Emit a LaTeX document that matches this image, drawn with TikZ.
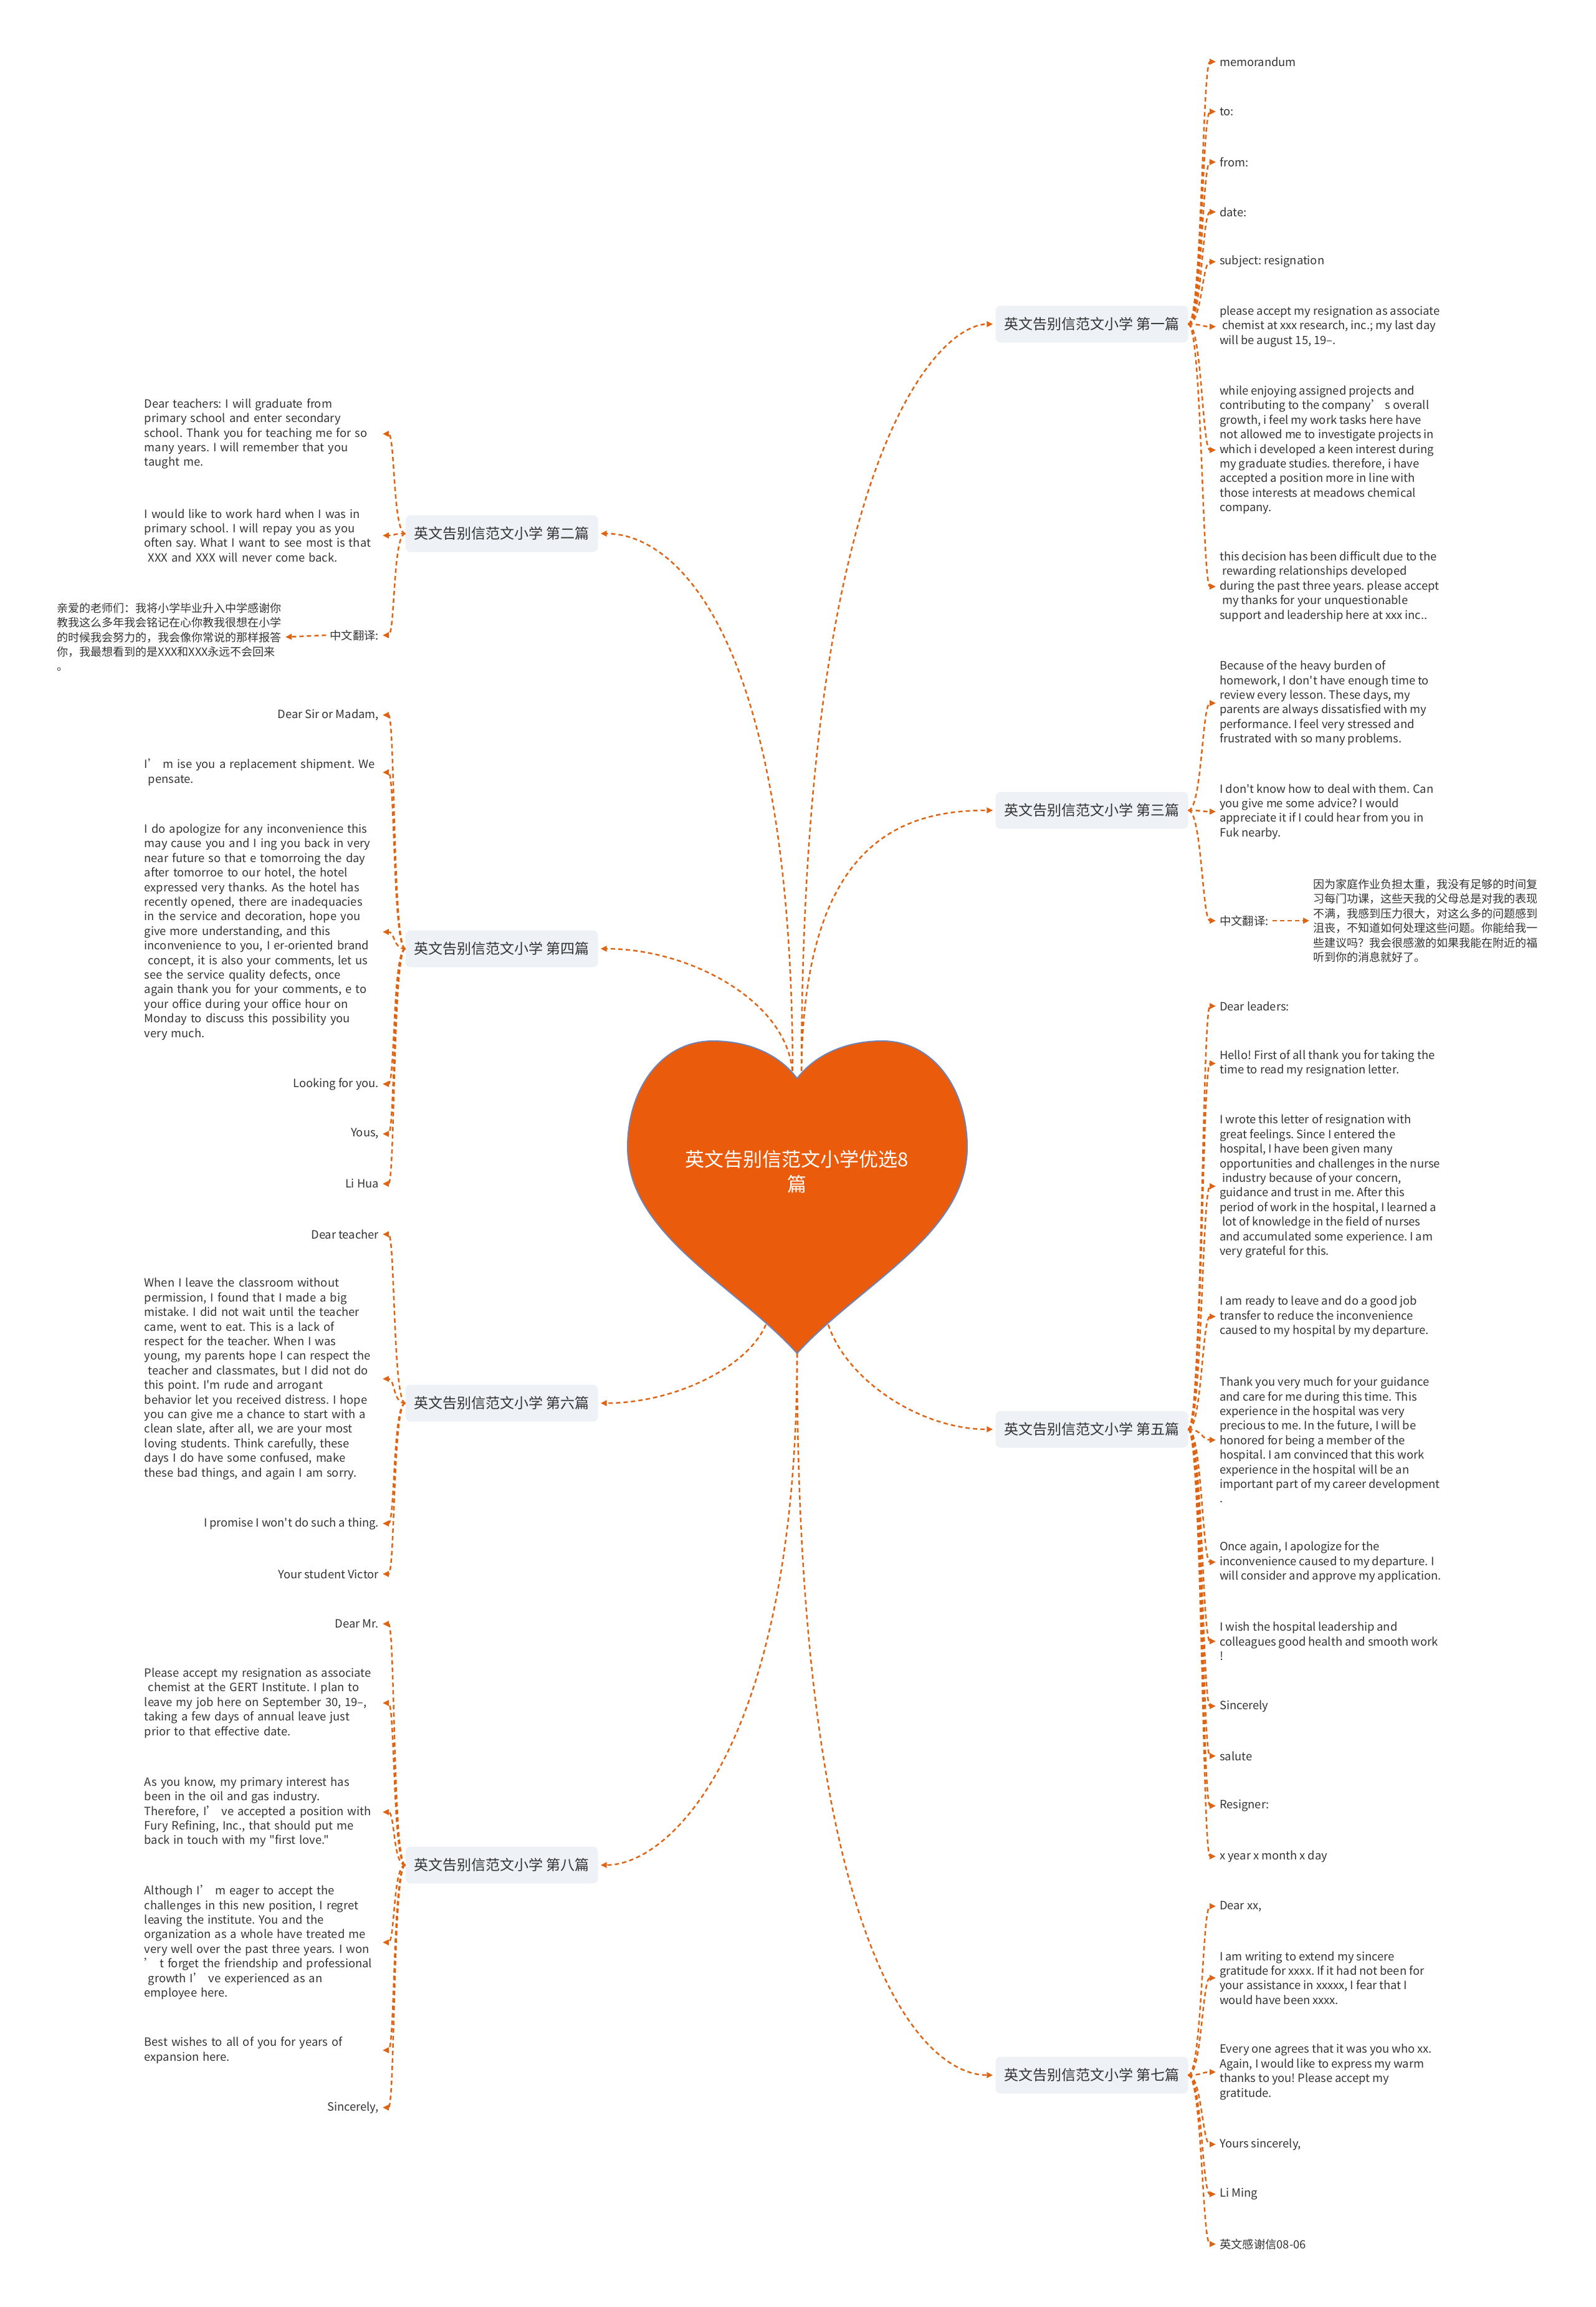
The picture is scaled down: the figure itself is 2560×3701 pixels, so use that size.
\documentclass[tikz,border=0pt]{standalone}
\usepackage{fontspec}
\setmainfont{Noto Sans CJK SC}[Ligatures=TeXOff]
\usetikzlibrary{arrows.meta}
\definecolor{heartorange}{HTML}{EA5B0C}
\definecolor{heartedge}{HTML}{6F84B4}
\definecolor{linkorange}{HTML}{DE6414}
\definecolor{branchfill}{HTML}{EEF1F6}
\definecolor{inktext}{HTML}{333333}
\frenchspacing

\begin{document}
\begin{tikzpicture}[
    x=1pt, y=-1pt,
    branch/.style={fill=branchfill, rounded corners=8pt, minimum width=309pt, minimum height=59pt, inner sep=4pt, text=inktext, font=\fontsize{23}{28}\selectfont},
    leaf/.style={text=inktext, inner sep=6pt, align=left, font=\fontsize{18.3}{23.4}\selectfont},
    lleaf/.style={leaf, anchor=east},
    rleaf/.style={leaf, anchor=west},
    lblock/.style={leaf, anchor=east, text width=376pt},
    zhblock/.style={leaf, font=\fontsize{18}{23.4}\selectfont},
    link/.style={draw=linkorange, line width=2.5pt, dash pattern=on 7pt off 5pt, -{Triangle[length=10pt,width=9pt]}},
    >=Stealth
]
\useasboundingbox (0,0) rectangle (2560,3701);

% heart in the middle
\filldraw[fill=heartorange, draw=heartedge, line width=2pt]
    (1279,1730) .. controls (1310,1690) and (1360,1670) .. (1416,1670)
    .. controls (1500,1670) and (1552,1750) .. (1552,1840)
    .. controls (1552,1980) and (1380,2060) .. (1279,2171)
    .. controls (1178,2060) and (1007,1980) .. (1007,1840)
    .. controls (1007,1750) and (1059,1670) .. (1144,1670)
    .. controls (1199,1670) and (1249,1690) .. (1279,1730) -- cycle;
\node[text=white, align=center, font=\fontsize{31}{40}\selectfont] (root) at (1279,1880) {英文告别信范文小学优选8\\篇};
\coordinate (htopl) at (1272,1730);
\coordinate (htopr) at (1286,1730);
\coordinate (hll) at (1229,2125);
\coordinate (hlr) at (1329,2125);
\coordinate (hbot) at (1279,2171);

% branches
\node[branch] (b1) at (1752,520) {英文告别信范文小学 第一篇};
\node[branch] (b3) at (1752,1300) {英文告别信范文小学 第三篇};
\node[branch] (b5) at (1752,2293) {英文告别信范文小学 第五篇};
\node[branch] (b7) at (1752,3329) {英文告别信范文小学 第七篇};
\node[branch] (b2) at (805,856) {英文告别信范文小学 第二篇};
\node[branch] (b4) at (805,1522) {英文告别信范文小学 第四篇};
\node[branch] (b6) at (805,2251) {英文告别信范文小学 第六篇};
\node[branch] (b8) at (805,2992) {英文告别信范文小学 第八篇};

\draw[link, shorten >=4pt] (htopr) .. controls +(0,-1000) and +(-90,0) .. (b1.west);
\draw[link, shorten >=4pt] (htopr) .. controls +(0,-380) and +(-150,0) .. (b3.west);
\draw[link, shorten >=4pt] (hlr) .. controls +(30,90) and +(-120,0) .. (b5.west);
\draw[link, shorten >=4pt] (hbot) .. controls +(0,950) and +(-120,0) .. (b7.west);
\draw[link, shorten >=4pt] (htopl) .. controls +(0,-700) and +(130,0) .. (b2.east);
\draw[link, shorten >=4pt] (htopl) .. controls +(0,-120) and +(150,0) .. (b4.east);
\draw[link, shorten >=4pt] (hll) .. controls +(-30,70) and +(120,0) .. (b6.east);
\draw[link, shorten >=4pt] (hbot) .. controls +(0,620) and +(120,0) .. (b8.east);

% first letter
\node[rleaf] (r11) at (1951,99) {memorandum};
\node[rleaf] (r12) at (1951,179) {to:};
\node[rleaf] (r13) at (1951,260) {from:};
\node[rleaf] (r14) at (1951,340) {date:};
\node[rleaf] (r15) at (1951,420) {subject: resignation};
\node[rleaf] (r16) at (1951,524) {please accept my resignation as associate\\\ chemist at xxx research, inc.; my last day\\will be august 15, 19–.};
\node[rleaf] (r17) at (1951,722) {while enjoying assigned projects and\\contributing to the company’ s overall\\growth, i feel my work tasks here have\\not allowed me to investigate projects in\\which i developed a keen interest during\\my graduate studies. therefore, i have\\accepted a position more in line with\\those interests at meadows chemical\\company.};
\node[rleaf] (r18) at (1951,941) {this decision has been difficult due to the\\\ rewarding relationships developed\\during the past three years. please accept\\\ my thanks for your unquestionable\\support and leadership here at xxx inc..};
\draw[link] (b1.east) .. controls +(22,0) and +(-22,0) .. (r11.west);
\draw[link] (b1.east) .. controls +(22,0) and +(-22,0) .. (r12.west);
\draw[link] (b1.east) .. controls +(22,0) and +(-22,0) .. (r13.west);
\draw[link] (b1.east) .. controls +(22,0) and +(-22,0) .. (r14.west);
\draw[link] (b1.east) .. controls +(22,0) and +(-22,0) .. (r15.west);
\draw[link] (b1.east) .. controls +(22,0) and +(-22,0) .. (r16.west);
\draw[link] (b1.east) .. controls +(22,0) and +(-22,0) .. (r17.west);
\draw[link] (b1.east) .. controls +(22,0) and +(-22,0) .. (r18.west);

% third letter
\node[rleaf] (r31) at (1951,1128) {Because of the heavy burden of\\homework, I don't have enough time to\\review every lesson. These days, my\\parents are always dissatisfied with my\\performance. I feel very stressed and\\frustrated with so many problems.};
\node[rleaf] (r32) at (1951,1302) {I don't know how to deal with them. Can\\you give me some advice? I would\\appreciate it if I could hear from you in\\Fuk nearby.};
\node[rleaf] (r33) at (1951,1477) {中文翻译:};
\node[zhblock, anchor=west] (z3) at (2101,1477) {因为家庭作业负担太重，我没有足够的时间复\\习每门功课，这些天我的父母总是对我的表现\\不满，我感到压力很大，对这么多的问题感到\\沮丧，不知道如何处理这些问题。你能给我一\\些建议吗？我会很感激的如果我能在附近的福\\听到你的消息就好了。};
\draw[link] (b3.east) .. controls +(22,0) and +(-22,0) .. (r31.west);
\draw[link] (b3.east) .. controls +(22,0) and +(-22,0) .. (r32.west);
\draw[link] (b3.east) .. controls +(22,0) and +(-22,0) .. (r33.west);
\draw[link] (r33.east) -- (z3.west);

% fifth letter
\node[rleaf] (r51) at (1951,1614) {Dear leaders:};
\node[rleaf] (r52) at (1951,1706) {Hello! First of all thank you for taking the\\time to read my resignation letter.};
\node[rleaf] (r53) at (1951,1903) {I wrote this letter of resignation with\\great feelings. Since I entered the\\hospital, I have been given many\\opportunities and challenges in the nurse\\\ industry because of your concern,\\guidance and trust in me. After this\\period of work in the hospital, I learned a\\\ lot of knowledge in the field of nurses\\and accumulated some experience. I am\\very grateful for this.};
\node[rleaf] (r54) at (1951,2112) {I am ready to leave and do a good job\\transfer to reduce the inconvenience\\caused to my hospital by my departure.};
\node[rleaf] (r55) at (1951,2310) {Thank you very much for your guidance\\and care for me during this time. This\\experience in the hospital was very\\precious to me. In the future, I will be\\honored for being a member of the\\hospital. I am convinced that this work\\experience in the hospital will be an\\important part of my career development\\.};
\node[rleaf] (r56) at (1951,2506) {Once again, I apologize for the\\inconvenience caused to my departure. I\\will consider and approve my application.};
\node[rleaf] (r57) at (1951,2633) {I wish the hospital leadership and\\colleagues good health and smooth work\\!};
\node[rleaf] (r58) at (1951,2737) {Sincerely};
\node[rleaf] (r59) at (1951,2817) {salute};
\node[rleaf] (r510) at (1951,2897) {Resigner:};
\node[rleaf] (r511) at (1951,2978) {x year x month x day};
\draw[link] (b5.east) .. controls +(22,0) and +(-22,0) .. (r51.west);
\draw[link] (b5.east) .. controls +(22,0) and +(-22,0) .. (r52.west);
\draw[link] (b5.east) .. controls +(22,0) and +(-22,0) .. (r53.west);
\draw[link] (b5.east) .. controls +(22,0) and +(-22,0) .. (r54.west);
\draw[link] (b5.east) .. controls +(22,0) and +(-22,0) .. (r55.west);
\draw[link] (b5.east) .. controls +(22,0) and +(-22,0) .. (r56.west);
\draw[link] (b5.east) .. controls +(22,0) and +(-22,0) .. (r57.west);
\draw[link] (b5.east) .. controls +(22,0) and +(-22,0) .. (r58.west);
\draw[link] (b5.east) .. controls +(22,0) and +(-22,0) .. (r59.west);
\draw[link] (b5.east) .. controls +(22,0) and +(-22,0) .. (r510.west);
\draw[link] (b5.east) .. controls +(22,0) and +(-22,0) .. (r511.west);

% seventh letter
\node[rleaf] (r71) at (1951,3058) {Dear xx,};
\node[rleaf] (r72) at (1951,3173) {I am writing to extend my sincere\\gratitude for xxxx. If it had not been for\\your assistance in xxxxx, I fear that I\\would have been xxxx.};
\node[rleaf] (r73) at (1951,3324) {Every one agrees that it was you who xx.\\Again, I would like to express my warm\\thanks to you! Please accept my\\gratitude.};
\node[rleaf] (r74) at (1951,3440) {Yours sincerely,};
\node[rleaf] (r75) at (1951,3520) {Li Ming};
\node[rleaf] (r76) at (1951,3600) {英文感谢信08-06};
\draw[link] (b7.east) .. controls +(22,0) and +(-22,0) .. (r71.west);
\draw[link] (b7.east) .. controls +(22,0) and +(-22,0) .. (r72.west);
\draw[link] (b7.east) .. controls +(22,0) and +(-22,0) .. (r73.west);
\draw[link] (b7.east) .. controls +(22,0) and +(-22,0) .. (r74.west);
\draw[link] (b7.east) .. controls +(22,0) and +(-22,0) .. (r75.west);
\draw[link] (b7.east) .. controls +(22,0) and +(-22,0) .. (r76.west);

% second letter
\node[lblock] (l21) at (614,696) {Dear teachers: I will graduate from\\primary school and enter secondary\\school. Thank you for teaching me for so\\many years. I will remember that you\\taught me.};
\node[lblock] (l22) at (614,859) {I would like to work hard when I was in\\primary school. I will repay you as you\\often say. What I want to see most is that\\\ XXX and XXX will never come back.};
\node[lleaf] (l23) at (614,1019) {中文翻译:};
\node[zhblock, anchor=east] (z2) at (458,1022) {亲爱的老师们：我将小学毕业升入中学感谢你\\教我这么多年我会铭记在心你教我很想在小学\\的时候我会努力的，我会像你常说的那样报答\\你，我最想看到的是XXX和XXX永远不会回来\\。};
\draw[link] (b2.west) .. controls +(-20,0) and +(20,0) .. (l21.east);
\draw[link] (b2.west) .. controls +(-20,0) and +(20,0) .. (l22.east);
\draw[link] (b2.west) .. controls +(-20,0) and +(20,0) .. (l23.east);
\draw[link] (l23.west) -- (z2.east);

% fourth letter
\node[lleaf] (l41) at (614,1147) {Dear Sir or Madam,};
\node[lblock] (l42) at (614,1239) {I’ m ise you a replacement shipment. We\\\ pensate.};
\node[lblock] (l43) at (614,1495) {I do apologize for any inconvenience this\\may cause you and I ing you back in very\\near future so that e tomorroing the day\\after tomorroe to our hotel, the hotel\\expressed very thanks. As the hotel has\\recently opened, there are inadequacies\\in the service and decoration, hope you\\give more understanding, and this\\inconvenience to you, I er-oriented brand\\\ concept, it is also your comments, let us\\see the service quality defects, once\\again thank you for your comments, e to\\your office during your office hour on\\Monday to discuss this possibility you\\very much.};
\node[lleaf] (l44) at (614,1739) {Looking for you.};
\node[lleaf] (l45) at (614,1819) {Yous,};
\node[lleaf] (l46) at (614,1899) {Li Hua};
\draw[link] (b4.west) .. controls +(-20,0) and +(20,0) .. (l41.east);
\draw[link] (b4.west) .. controls +(-20,0) and +(20,0) .. (l42.east);
\draw[link] (b4.west) .. controls +(-20,0) and +(20,0) .. (l43.east);
\draw[link] (b4.west) .. controls +(-20,0) and +(20,0) .. (l44.east);
\draw[link] (b4.west) .. controls +(-20,0) and +(20,0) .. (l45.east);
\draw[link] (b4.west) .. controls +(-20,0) and +(20,0) .. (l46.east);

% sixth letter
\node[lleaf] (l61) at (614,1980) {Dear teacher};
\node[lblock] (l62) at (614,2212) {When I leave the classroom without\\permission, I found that I made a big\\mistake. I did not wait until the teacher\\came, went to eat. This is a lack of\\respect for the teacher. When I was\\young, my parents hope I can respect the\\\ teacher and classmates, but I did not do\\this point. I'm rude and arrogant\\behavior let you received distress. I hope\\you can give me a chance to start with a\\clean slate, after all, we are your most\\loving students. Think carefully, these\\days I do have some confused, make\\these bad things, and again I am sorry.};
\node[lleaf] (l63) at (614,2444) {I promise I won't do such a thing.};
\node[lleaf] (l64) at (614,2525) {Your student Victor};
\draw[link] (b6.west) .. controls +(-20,0) and +(20,0) .. (l61.east);
\draw[link] (b6.west) .. controls +(-20,0) and +(20,0) .. (l62.east);
\draw[link] (b6.west) .. controls +(-20,0) and +(20,0) .. (l63.east);
\draw[link] (b6.west) .. controls +(-20,0) and +(20,0) .. (l64.east);

% eighth letter
\node[lleaf] (l81) at (614,2605) {Dear Mr.};
\node[lblock] (l82) at (614,2732) {Please accept my resignation as associate\\\ chemist at the GERT Institute. I plan to\\leave my job here on September 30, 19–,\\taking a few days of annual leave just\\prior to that effective date.};
\node[lblock] (l83) at (614,2907) {As you know, my primary interest has\\been in the oil and gas industry.\\Therefore, I’ ve accepted a position with\\Fury Refining, Inc., that should put me\\back in touch with my "first love."};
\node[lblock] (l84) at (614,3116) {Although I’ m eager to accept the\\challenges in this new position, I regret\\leaving the institute. You and the\\organization as a whole have treated me\\very well over the past three years. I won\\’ t forget the friendship and professional\\\ growth I’ ve experienced as an\\employee here.};
\node[lblock] (l85) at (614,3289) {Best wishes to all of you for years of\\expansion here.};
\node[lleaf] (l86) at (614,3381) {Sincerely,};
\draw[link] (b8.west) .. controls +(-20,0) and +(20,0) .. (l81.east);
\draw[link] (b8.west) .. controls +(-20,0) and +(20,0) .. (l82.east);
\draw[link] (b8.west) .. controls +(-20,0) and +(20,0) .. (l83.east);
\draw[link] (b8.west) .. controls +(-20,0) and +(20,0) .. (l84.east);
\draw[link] (b8.west) .. controls +(-20,0) and +(20,0) .. (l85.east);
\draw[link] (b8.west) .. controls +(-20,0) and +(20,0) .. (l86.east);
\end{tikzpicture}
\end{document}
